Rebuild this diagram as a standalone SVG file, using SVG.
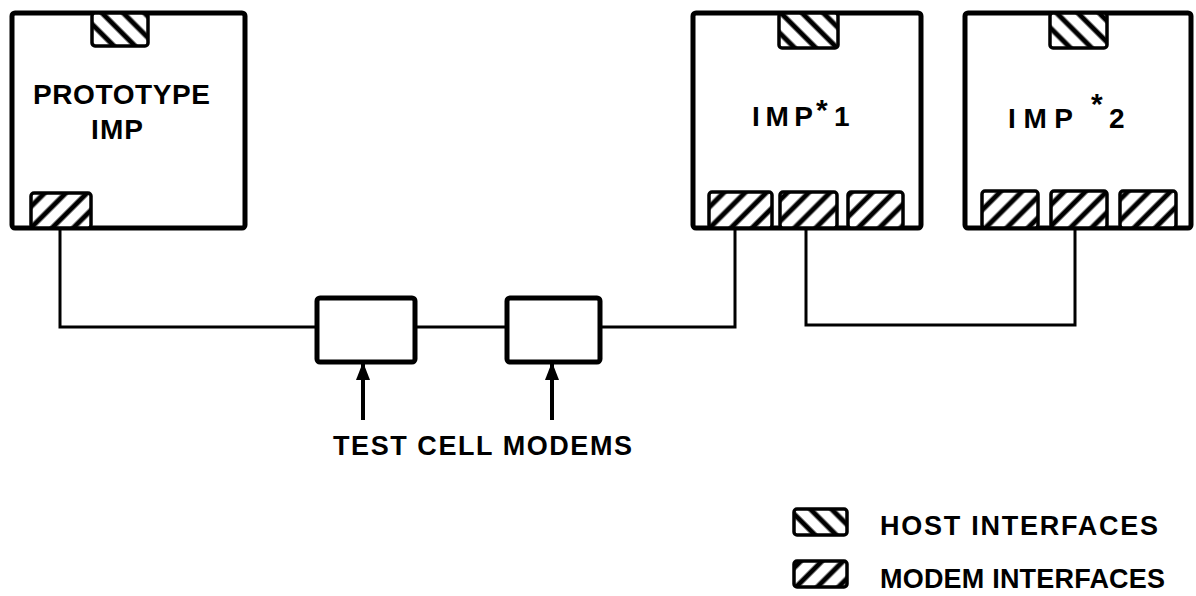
<svg xmlns="http://www.w3.org/2000/svg" width="1196" height="596" viewBox="0 0 1196 596">
<defs>
<pattern id="hostHatch" width="15" height="15" patternUnits="userSpaceOnUse" patternTransform="rotate(-45)">
<rect width="15" height="15" fill="#fff"/>
<line x1="3" y1="0" x2="3" y2="15" stroke="#000" stroke-width="5"/>
</pattern>
<pattern id="modemHatch" width="15" height="15" patternUnits="userSpaceOnUse" patternTransform="rotate(45)">
<rect width="15" height="15" fill="#fff"/>
<line x1="3" y1="0" x2="3" y2="15" stroke="#000" stroke-width="5"/>
</pattern>
<marker id="arrow" viewBox="0 0 18 14" refX="17" refY="7" markerWidth="18" markerHeight="14" markerUnits="userSpaceOnUse" orient="auto">
<path d="M0 0 L18 7 L0 14 Z" fill="#000"/>
</marker>
</defs>
<style>
.box{fill:#fff;stroke:#000;stroke-width:5;}
.host{fill:url(#hostHatch);stroke:#000;stroke-width:3.5;}
.modem{fill:url(#modemHatch);stroke:#000;stroke-width:3.5;}
.wire{fill:none;stroke:#000;stroke-width:3;}
.ptr{fill:none;stroke:#000;stroke-width:4;}
text{font-family:"Liberation Sans",Arial,sans-serif;fill:#000;font-weight:bold;}
.lbl{font-size:28px;}
.sup{font-size:30px;}
.leg{font-size:27px;}
</style>
<rect width="1196" height="596" fill="#fff"/>
<g id="connectors">
<polyline class="wire" points="60,228 60,327 317,327"/>
<line class="wire" x1="415" y1="327" x2="507" y2="327"/>
<polyline class="wire" points="600,327 735,327 735,228"/>
<polyline class="wire" points="806,228 806,325 1075,325 1075,228"/>
<line class="ptr" x1="363" y1="420" x2="363" y2="363" marker-end="url(#arrow)"/>
<line class="ptr" x1="552" y1="420" x2="552" y2="363" marker-end="url(#arrow)"/>
</g>
<g id="prototype-imp">
<rect class="box" x="12" y="13" width="233" height="215" rx="3"/>
<rect class="host" x="92" y="13" width="56" height="33" rx="3"/>
<rect class="modem" x="31" y="193" width="60" height="35" rx="3"/>
<text class="lbl" x="33" y="104" textLength="177" lengthAdjust="spacing">PROTOTYPE</text>
<text class="lbl" x="91" y="139" textLength="52" lengthAdjust="spacing">IMP</text>
</g>
<g id="imp1">
<rect class="box" x="693" y="13" width="228" height="215" rx="3"/>
<rect class="host" x="779" y="13" width="59" height="35" rx="3"/>
<rect class="modem" x="709" y="192" width="63" height="36" rx="3"/>
<rect class="modem" x="780" y="192" width="57" height="36" rx="3"/>
<rect class="modem" x="848" y="192" width="55" height="36" rx="3"/>
<text class="lbl" x="752" y="126" textLength="61" lengthAdjust="spacing">IMP</text>
<text class="sup" x="816" y="120">*</text>
<text class="lbl" x="834" y="126">1</text>
</g>
<g id="imp2">
<rect class="box" x="965" y="13" width="226" height="215" rx="3"/>
<rect class="host" x="1050" y="13" width="57" height="35" rx="3"/>
<rect class="modem" x="982" y="191" width="56" height="37" rx="3"/>
<rect class="modem" x="1051" y="191" width="56" height="37" rx="3"/>
<rect class="modem" x="1120" y="191" width="56" height="37" rx="3"/>
<text class="lbl" x="1008" y="128" textLength="65" lengthAdjust="spacing">IMP</text>
<text class="sup" x="1091" y="114">*</text>
<text class="lbl" x="1109" y="128">2</text>
</g>
<g id="modem1">
<rect class="box" x="317" y="298" width="98" height="64" rx="3"/>
</g>
<g id="modem2">
<rect class="box" x="507" y="298" width="93" height="64" rx="3"/>
</g>
<g id="modems-label">
<text class="leg" x="333" y="455" textLength="299" lengthAdjust="spacing">TEST CELL MODEMS</text>
</g>
<g id="legend">
<rect class="host" x="794" y="509" width="53" height="26" rx="3"/>
<text class="leg" x="880" y="535" textLength="278" lengthAdjust="spacing">HOST INTERFACES</text>
<rect class="modem" x="794" y="561" width="53" height="26" rx="3"/>
<text class="leg" x="880" y="588" textLength="285" lengthAdjust="spacing">MODEM INTERFACES</text>
</g>
</svg>
